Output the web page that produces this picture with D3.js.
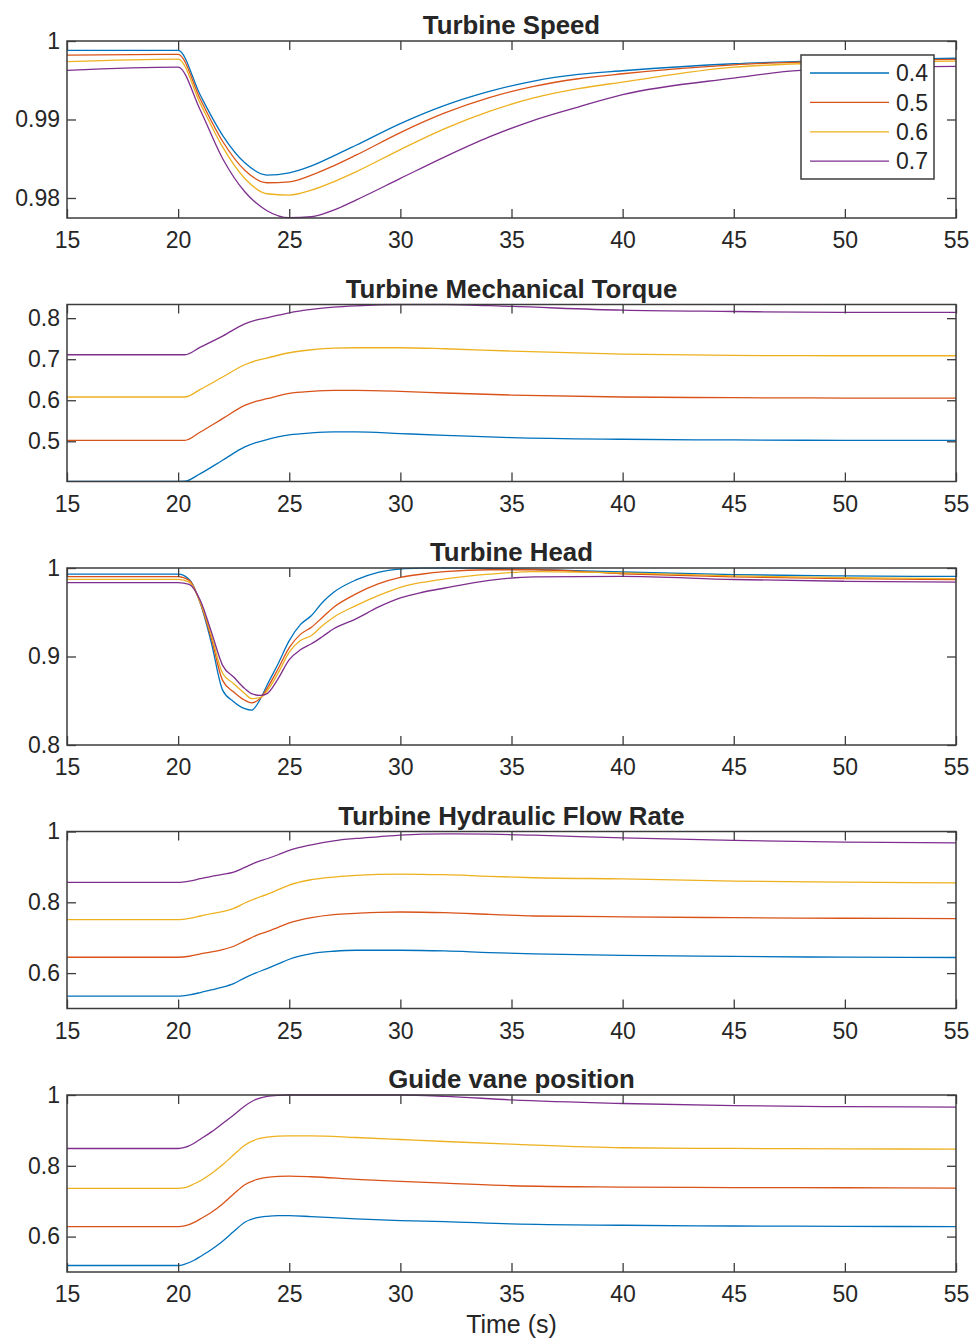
<!DOCTYPE html>
<html>
<head>
<meta charset="utf-8">
<script src="https://cdn.jsdelivr.net/npm/d3@7"></script>
<style>
  body { margin: 0; background: #fff; }
  svg { display: block; }
  text { font-family: "Liberation Sans", Arial, Helvetica, sans-serif; fill: #262626; }
</style>
</head>
<body>
<svg id="chart" width="977" height="1340"></svg>
<script>
// ---- series labels and colours ----
const seriesLabels = ["0.4", "0.5", "0.6", "0.7"];
const seriesColors = ["#0072BD", "#D95319", "#EDB120", "#7E2F8E"];
const xTicks = [15, 20, 25, 30, 35, 40, 45, 50, 55];

// ---- Turbine Speed ----
const speedTime = [15, 20, 21, 22, 23, 24, 25, 26, 27, 28, 30, 32, 34, 36, 38, 40, 45, 48, 55];
const speed04 = [0.9988, 0.9988, 0.99308, 0.98799, 0.98448, 0.98291, 0.98321, 0.98409, 0.98537, 0.98672, 0.98948, 0.99180, 0.99358, 0.99490, 0.99574, 0.99621, 0.99710, 0.99740, 0.99780];
const speed05 = [0.9982, 0.9983, 0.99257, 0.98723, 0.98354, 0.98194, 0.98206, 0.98291, 0.98410, 0.98545, 0.98833, 0.99083, 0.99278, 0.99422, 0.99519, 0.99583, 0.99697, 0.99730, 0.99765];
const speed06 = [0.99736, 0.99769, 0.99202, 0.98651, 0.98249, 0.98054, 0.98037, 0.98100, 0.98206, 0.98333, 0.98617, 0.98884, 0.99104, 0.99274, 0.99392, 0.99477, 0.99667, 0.99710, 0.99743];
const speed07 = [0.99625, 0.99667, 0.99117, 0.98503, 0.98079, 0.97838, 0.97749, 0.97761, 0.97846, 0.97973, 0.98249, 0.98524, 0.98778, 0.98990, 0.99159, 0.99316, 0.99527, 0.99625, 0.99676];
const speedDomain = [0.97745, 1.0];
const speedTicks = [0.98, 0.99, 1];

// ---- Turbine Mechanical Torque ----
const torqueTime = [15, 20, 20.3, 21, 22, 23, 23.5, 24, 25, 26, 27, 28, 30, 32, 35, 40, 45, 50, 55];
const torque04 = [0.4025, 0.4025, 0.4027, 0.4213, 0.4538, 0.4862, 0.4968, 0.5041, 0.5154, 0.5203, 0.5227, 0.5227, 0.5187, 0.5146, 0.5089, 0.5049, 0.5032, 0.5024, 0.5024];
const torque05 = [0.5024, 0.5024, 0.5024, 0.5227, 0.5552, 0.5876, 0.5973, 0.6038, 0.6168, 0.6217, 0.6241, 0.6241, 0.6217, 0.6176, 0.6127, 0.6079, 0.6063, 0.6054, 0.6054];
const torque06 = [0.6079, 0.6079, 0.6079, 0.6265, 0.6565, 0.6865, 0.6963, 0.7028, 0.7157, 0.7230, 0.7271, 0.7279, 0.7279, 0.7255, 0.7198, 0.7125, 0.7092, 0.7084, 0.7084];
const torque07 = [0.7109, 0.7109, 0.7109, 0.7295, 0.7563, 0.7863, 0.7952, 0.8009, 0.8131, 0.8212, 0.8268, 0.8301, 0.8333, 0.8333, 0.8285, 0.8195, 0.8163, 0.8139, 0.8139];
const torqueDomain = [0.402, 0.8333];
const torqueTicks = [0.5, 0.6, 0.7, 0.8];

// ---- Turbine Head ----
const headTime = [15, 20, 20.5, 21, 21.5, 22, 22.5, 23, 23.3, 23.7, 24, 24.5, 25, 25.5, 26, 26.5, 27, 28, 29, 30, 31, 32, 34, 36, 40, 45, 50, 55];
const head04 = [0.9930, 0.9930, 0.9870, 0.9600, 0.9150, 0.8620, 0.8490, 0.8410, 0.8393, 0.8520, 0.8675, 0.8919, 0.9180, 0.9360, 0.9463, 0.9613, 0.9726, 0.9865, 0.9951, 0.9988, 0.9998, 1.0000, 0.9995, 0.9985, 0.9955, 0.9925, 0.9910, 0.9905];
const head05 = [0.9902, 0.9902, 0.9860, 0.9605, 0.9200, 0.8730, 0.8599, 0.8506, 0.8476, 0.8530, 0.8637, 0.8862, 0.9100, 0.9250, 0.9331, 0.9444, 0.9557, 0.9707, 0.9820, 0.9894, 0.9932, 0.9958, 0.9980, 0.9980, 0.9935, 0.9900, 0.9880, 0.9870];
const head06 = [0.9872, 0.9872, 0.9840, 0.9610, 0.9238, 0.8810, 0.8693, 0.8581, 0.8524, 0.8535, 0.8610, 0.8813, 0.9050, 0.9180, 0.9238, 0.9350, 0.9444, 0.9575, 0.9688, 0.9782, 0.9838, 0.9876, 0.9930, 0.9960, 0.9945, 0.9910, 0.9890, 0.9880];
const head07 = [0.9834, 0.9834, 0.9815, 0.9632, 0.9275, 0.8900, 0.8768, 0.8637, 0.8581, 0.8560, 0.8581, 0.8750, 0.8964, 0.9076, 0.9144, 0.9226, 0.9313, 0.9425, 0.9557, 0.9662, 0.9726, 0.9774, 0.9860, 0.9900, 0.9905, 0.9870, 0.9850, 0.9840];
const headDomain = [0.8, 1.0];
const headTicks = [0.8, 0.9, 1];

// ---- Turbine Hydraulic Flow Rate ----
const flowTime = [15, 20, 20.5, 21, 21.5, 22, 22.5, 23, 23.5, 24, 24.5, 25, 26, 27, 28, 29, 30, 32, 34, 36, 40, 45, 50, 55];
const flow04 = [0.5348, 0.5348, 0.5385, 0.5451, 0.5526, 0.5602, 0.5705, 0.5865, 0.6006, 0.6128, 0.6260, 0.6391, 0.6551, 0.6617, 0.6645, 0.6645, 0.6645, 0.6626, 0.6579, 0.6542, 0.6500, 0.6470, 0.6450, 0.6440];
const flow05 = [0.6448, 0.6448, 0.6476, 0.6542, 0.6598, 0.6664, 0.6758, 0.6908, 0.7059, 0.7171, 0.7294, 0.7416, 0.7566, 0.7651, 0.7688, 0.7717, 0.7726, 0.7707, 0.7660, 0.7613, 0.7590, 0.7565, 0.7550, 0.7540];
const flow06 = [0.7510, 0.7510, 0.7547, 0.7613, 0.7679, 0.7735, 0.7829, 0.7980, 0.8111, 0.8224, 0.8356, 0.8488, 0.8638, 0.8713, 0.8760, 0.8788, 0.8798, 0.8779, 0.8732, 0.8694, 0.8660, 0.8600, 0.8570, 0.8550];
const flow07 = [0.8563, 0.8563, 0.8600, 0.8666, 0.8732, 0.8788, 0.8854, 0.8986, 0.9127, 0.9230, 0.9343, 0.9465, 0.9625, 0.9738, 0.9804, 0.9851, 0.9898, 0.9935, 0.9925, 0.9895, 0.9820, 0.9750, 0.9700, 0.9680];
const flowDomain = [0.5, 1.0];
const flowTicks = [0.6, 0.8, 1];

// ---- Guide vane position ----
const vaneTime = [15, 20, 20.3, 20.7, 21, 21.5, 22, 22.5, 23, 23.5, 24, 24.5, 25, 26, 28, 30, 32, 35, 40, 45, 50, 55];
const vane04 = [0.5184, 0.5184, 0.5222, 0.5325, 0.5437, 0.5635, 0.5869, 0.6142, 0.6405, 0.6527, 0.6574, 0.6592, 0.6592, 0.6564, 0.6499, 0.6452, 0.6423, 0.6358, 0.6320, 0.6300, 0.6290, 0.6280];
const vane05 = [0.6283, 0.6283, 0.6301, 0.6395, 0.6499, 0.6686, 0.6921, 0.7203, 0.7466, 0.7606, 0.7672, 0.7701, 0.7710, 0.7691, 0.7616, 0.7560, 0.7513, 0.7437, 0.7400, 0.7385, 0.7380, 0.7370];
const vane06 = [0.7362, 0.7362, 0.7381, 0.7485, 0.7578, 0.7785, 0.8029, 0.8311, 0.8583, 0.8743, 0.8808, 0.8837, 0.8846, 0.8846, 0.8799, 0.8743, 0.8686, 0.8611, 0.8510, 0.8490, 0.8480, 0.8470];
const vane07 = [0.8489, 0.8489, 0.8517, 0.8630, 0.8752, 0.8959, 0.9194, 0.9437, 0.9691, 0.9879, 0.9963, 0.9992, 1.0000, 1.0000, 1.0000, 1.0000, 0.9963, 0.9860, 0.9760, 0.9700, 0.9670, 0.9660];
const vaneDomain = [0.5, 1.0];
const vaneTicks = [0.6, 0.8, 1];

// ---- panel table built from the arrays above ----
const panels = [
  { title: "Turbine Speed", time: speedTime, series: [speed04, speed05, speed06, speed07], domain: speedDomain, ticks: speedTicks },
  { title: "Turbine Mechanical Torque", time: torqueTime, series: [torque04, torque05, torque06, torque07], domain: torqueDomain, ticks: torqueTicks },
  { title: "Turbine Head", time: headTime, series: [head04, head05, head06, head07], domain: headDomain, ticks: headTicks },
  { title: "Turbine Hydraulic Flow Rate", time: flowTime, series: [flow04, flow05, flow06, flow07], domain: flowDomain, ticks: flowTicks },
  { title: "Guide vane position", time: vaneTime, series: [vane04, vane05, vane06, vane07], domain: vaneDomain, ticks: vaneTicks }
];

// ---- layout ----
const plotLeft = 67, plotRight = 956;
const firstTop = 41, panelStep = 263.5, plotH = 177;
const axisColor = "#3c3c3c";
const tickFont = 23;

const svg = d3.select("#chart");
const x = d3.scaleLinear().domain([15, 55]).range([plotLeft, plotRight]);

function styleAxis(g) {
  g.select(".domain").remove();
  g.selectAll(".tick line").attr("stroke", axisColor).attr("stroke-width", 1.3);
  g.selectAll(".tick text").attr("fill", "#262626").style("font-size", tickFont + "px");
}

const yFmt = d => String(+d.toFixed(4));

panels.forEach((p, i) => {
  const top = firstTop + i * panelStep;
  const bottom = top + plotH;
  const y = d3.scaleLinear().domain(p.domain).range([bottom, top]);
  const g = svg.append("g");

  const clipId = "clip" + i;
  svg.append("clipPath").attr("id", clipId)
    .append("rect").attr("x", plotLeft).attr("y", top - 1)
    .attr("width", plotRight - plotLeft).attr("height", plotH + 2);

  // data lines
  const line = d3.line()
    .x((d, k) => x(p.time[k]))
    .y(d => y(d))
    .curve(d3.curveMonotoneX);
  g.append("g").attr("clip-path", `url(#${clipId})`)
    .selectAll("path").data(p.series).join("path")
    .attr("d", d => line(d))
    .attr("fill", "none")
    .attr("stroke", (d, k) => seriesColors[k])
    .attr("stroke-width", 1.3);

  // axes with inward ticks on all four sides
  g.append("g").attr("transform", `translate(0,${bottom})`)
    .call(d3.axisBottom(x).tickValues(xTicks).tickSize(-9).tickSizeOuter(0).tickPadding(14).tickFormat(d3.format("d")))
    .call(styleAxis);
  g.append("g").attr("transform", `translate(0,${top})`)
    .call(d3.axisTop(x).tickValues(xTicks).tickSize(-9).tickSizeOuter(0).tickFormat(""))
    .call(styleAxis);
  g.append("g").attr("transform", `translate(${plotLeft},0)`)
    .call(d3.axisLeft(y).tickValues(p.ticks).tickSize(-9).tickSizeOuter(0).tickPadding(7).tickFormat(yFmt))
    .call(styleAxis);
  g.append("g").attr("transform", `translate(${plotRight},0)`)
    .call(d3.axisRight(y).tickValues(p.ticks).tickSize(-9).tickSizeOuter(0).tickFormat(""))
    .call(styleAxis);

  // frame
  g.append("rect")
    .attr("x", plotLeft).attr("y", top)
    .attr("width", plotRight - plotLeft).attr("height", plotH)
    .attr("fill", "none").attr("stroke", axisColor).attr("stroke-width", 1.5);

  // title
  g.append("text")
    .attr("x", (plotLeft + plotRight) / 2).attr("y", top - 7)
    .attr("text-anchor", "middle")
    .style("font-size", "25.8px").style("font-weight", "bold")
    .attr("fill", "#000")
    .text(p.title);
});

// x-axis label under the last panel
svg.append("text")
  .attr("x", (plotLeft + plotRight) / 2)
  .attr("y", firstTop + 4 * panelStep + plotH + 61)
  .attr("text-anchor", "middle")
  .style("font-size", "25px")
  .text("Time (s)");

// legend in the first panel
const legend = svg.append("g");
const lgX = 801, lgY = 55, lgW = 133, lgH = 124;
legend.append("rect")
  .attr("x", lgX).attr("y", lgY).attr("width", lgW).attr("height", lgH)
  .attr("fill", "#fff").attr("stroke", axisColor).attr("stroke-width", 1.5);
seriesLabels.forEach((lab, k) => {
  const cy = lgY + 18 + k * 29.4;
  legend.append("line")
    .attr("x1", lgX + 9).attr("x2", lgX + 88).attr("y1", cy).attr("y2", cy)
    .attr("stroke", seriesColors[k]).attr("stroke-width", 1.3);
  legend.append("text")
    .attr("x", lgX + 95).attr("y", cy).attr("dy", "0.36em")
    .style("font-size", tickFont + "px")
    .text(lab);
});
</script>
</body>
</html>
